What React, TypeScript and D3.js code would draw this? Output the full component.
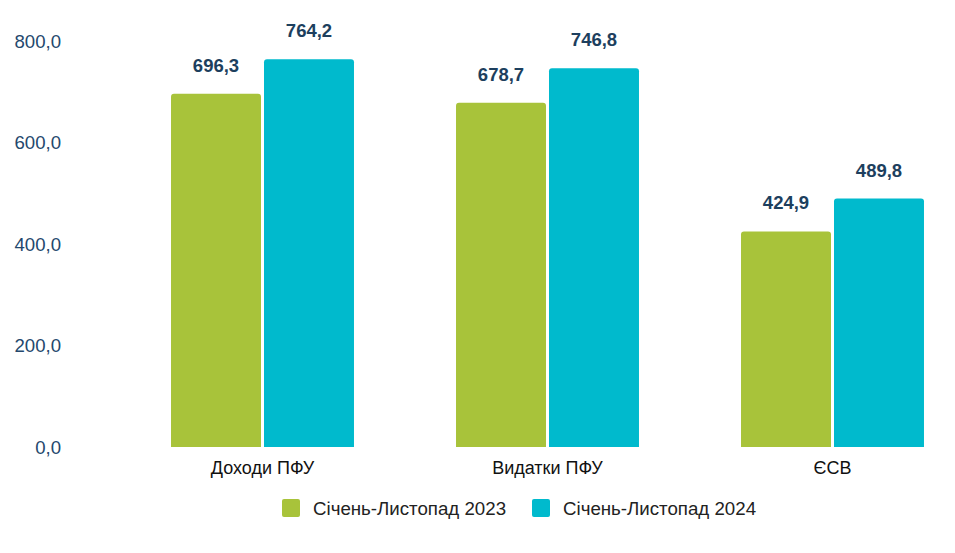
import React from "react";
import * as d3 from "d3";

const categories = ["Доходи ПФУ", "Видатки ПФУ", "ЄСВ"];
const seriesNames = ["Січень-Листопад 2023", "Січень-Листопад 2024"];
const values2023 = [696.3, 678.7, 424.9];
const values2024 = [764.2, 746.8, 489.8];
const yTicks = [0, 200, 400, 600, 800];
const colors = ["#a8c33a", "#00bacd"];

const width = 955;
const height = 553;
const font = "'Liberation Sans', Arial, sans-serif";

const fmt = (v: number) => v.toFixed(1).replace(".", ",");

// rect with only the top corners rounded
const topRounded = (x: number, y: number, w: number, h: number, r: number) =>
  `M${x},${y + h}V${y + r}Q${x},${y} ${x + r},${y}H${x + w - r}Q${x + w},${y} ${x + w},${y + r}V${y + h}Z`;

export default function App() {
  const series = [values2023, values2024];

  const x0 = d3
    .scaleBand<string>()
    .domain(categories)
    .range([120, 975])
    .paddingInner(0.358)
    .paddingOuter(0.179);

  const x1 = d3
    .scaleBand<string>()
    .domain(seriesNames)
    .range([0, x0.bandwidth()])
    .paddingInner(0.0323);

  const y = d3.scaleLinear().domain([0, 800]).range([447, 41.2]);

  return (
    <div style={{ margin: -8 }}>
      <svg width={width} height={height} style={{ display: "block", background: "#fff" }}>
        {/* y axis labels */}
        <g fontFamily={font} fontSize={18.6} fill="#24486d" textAnchor="end">
          {yTicks.map((t) => (
            <text key={t} x={61} y={y(t)} dy="0.35em">
              {fmt(t)}
            </text>
          ))}
        </g>

        {/* bars */}
        {categories.map((c, i) => (
          <g key={c} transform={`translate(${x0(c)},0)`}>
            {seriesNames.map((s, j) => {
              const v = series[j][i];
              const bx = x1(s) as number;
              const by = y(v);
              return (
                <g key={s}>
                  <path
                    d={topRounded(bx, by, x1.bandwidth(), y(0) - by, 3)}
                    fill={colors[j]}
                  />
                  <text
                    x={bx + x1.bandwidth() / 2}
                    y={by - 22}
                    textAnchor="middle"
                    fontFamily={font}
                    fontWeight="bold"
                    fontSize={18.5}
                    fill="#1d3f5e"
                  >
                    {fmt(v)}
                  </text>
                </g>
              );
            })}
            <text
              x={x0.bandwidth() / 2}
              y={468}
              dy="0.35em"
              textAnchor="middle"
              fontFamily={font}
              fontSize={18}
              fill="#111"
            >
              {c}
            </text>
          </g>
        ))}

        {/* legend */}
        <g fontFamily={font} fontSize={18.7} fill="#222">
          {seriesNames.map((s, j) => {
            const lx = j === 0 ? 282 : 532;
            return (
              <g key={s} transform={`translate(${lx},499)`}>
                <rect width={18} height={18} rx={2} fill={colors[j]} />
                <text x={31} y={9} dy="0.35em">
                  {s}
                </text>
              </g>
            );
          })}
        </g>
      </svg>
    </div>
  );
}
